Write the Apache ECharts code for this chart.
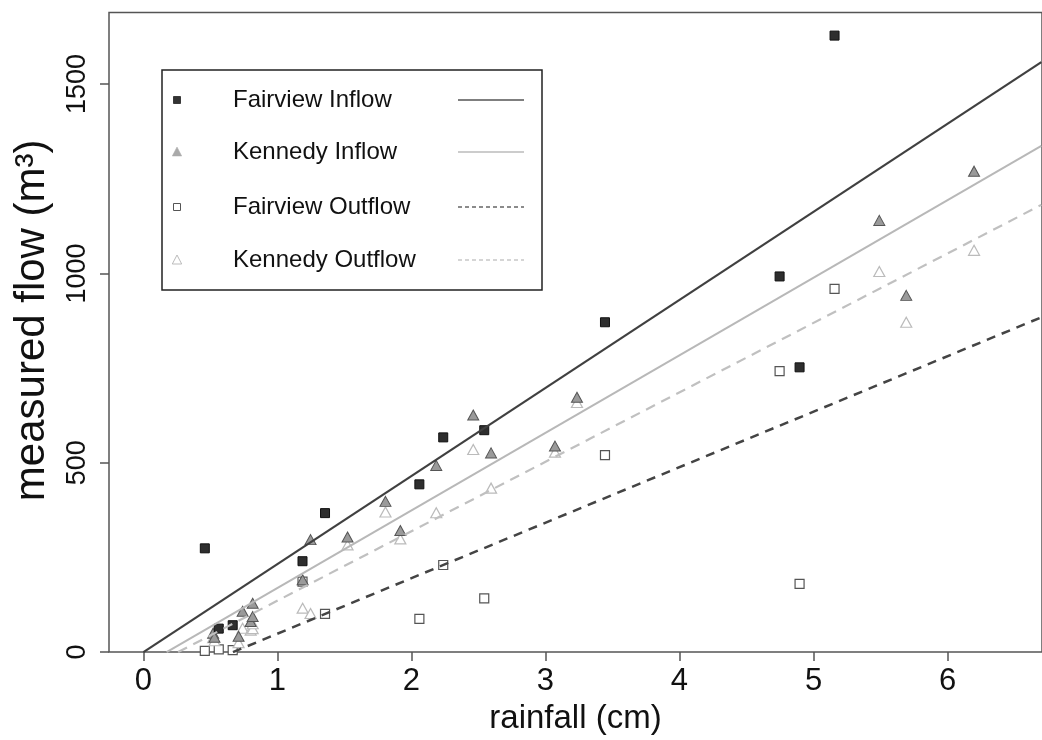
<!DOCTYPE html>
<html>
<head>
<meta charset="utf-8">
<script src="https://cdn.jsdelivr.net/npm/echarts@6/dist/echarts.min.js"></script>
<style>
html,body{margin:0;padding:0;background:#fff;}
#chart{width:1042px;height:740px;}
</style>
</head>
<body>
<div id="chart"></div>
<script>
// ---- data ----
const seriesNames = ['Fairview Inflow', 'Kennedy Inflow', 'Fairview Outflow', 'Kennedy Outflow'];
const xTicks = [0, 1, 2, 3, 4, 5, 6];
const yTicks = [0, 500, 1000, 1500];

// Fairview storms (rainfall, cm)
const fairviewX = [0.458, 0.562, 0.666, 1.187, 1.355, 2.059, 2.237, 2.543, 3.444, 4.747, 4.896, 5.157];
const fairviewInflow = [274, 62, 71, 240, 367, 443, 567, 586, 871, 992, 752, 1628];
const fairviewOutflow = [3, 7, 5, 186, 101, 88, 230, 142, 520, 742, 180, 959];

// Kennedy storms (rainfall, cm)
const kennedyX = [0.52, 0.53, 0.71, 0.74, 0.80, 0.815, 0.815, 1.188, 1.247, 1.523, 1.806, 1.917, 2.185, 2.461, 2.594, 3.071, 3.235, 5.491, 5.692, 6.198];
const kennedyInflow = [50, 39, 42, 108, 81, 94, 129, 191, 297, 304, 398, 321, 493, 626, 526, 544, 673, 1140, 942, 1270];
const kennedyOutflow = [38, 30, 25, 63, 58, 62, 75, 116, 102, 283, 370, 299, 368, 535, 433, 528, 659, 1005, 871, 1061];

// fitted lines (endpoints)
const fitFairviewInflow = [[0, 0], [6.70, 1558]];
const fitKennedyInflow = [[0.173, 0], [6.70, 1337]];
const fitFairviewOutflow = [[0.668, 0], [6.70, 884]];
const fitKennedyOutflow = [[0.259, 0], [6.70, 1181]];

// ---- chart ----
const FONT = 'Liberation Sans, Arial, sans-serif';
function pairs(xs, ys) { return xs.map((x, i) => [x, ys[i]]); }
const plain = (v) => String(v);

const chart = echarts.init(document.getElementById('chart'), null, {renderer: 'canvas'});

const legendRows = [100, 152, 207, 260];
const legendGraphics = [
  {type: 'rect', shape: {x: 162, y: 70, width: 380, height: 220},
   style: {fill: '#fff', stroke: '#222', lineWidth: 1.5}, z: 100}
];
const mk = [
  (y) => ({type: 'rect', shape: {x: 173.5, y: y - 3.5, width: 7, height: 7}, style: {fill: '#333', stroke: '#222', lineWidth: 0.8}, z: 101}),
  (y) => ({type: 'polygon', shape: {points: [[177, y - 5], [172.3, y + 4], [181.7, y + 4]]}, style: {fill: '#aaa', stroke: '#aaa', lineWidth: 0.5}, z: 101}),
  (y) => ({type: 'rect', shape: {x: 173.5, y: y - 3.5, width: 7, height: 7}, style: {fill: '#fff', stroke: '#555', lineWidth: 1}, z: 101}),
  (y) => ({type: 'polygon', shape: {points: [[177, y - 5], [172.3, y + 4], [181.7, y + 4]]}, style: {fill: '#fff', stroke: '#bbb', lineWidth: 1}, z: 101})
];
const legLine = [
  {stroke: '#555', lineDash: null},
  {stroke: '#bbb', lineDash: null},
  {stroke: '#666', lineDash: [4, 3]},
  {stroke: '#c8c8c8', lineDash: [4, 3]}
];
seriesNames.forEach((n, i) => {
  const y = legendRows[i];
  legendGraphics.push(mk[i](y));
  legendGraphics.push({type: 'text', x: 233, y: y, z: 101,
    style: {text: n, fontSize: 24, fontFamily: FONT, fill: '#111', verticalAlign: 'middle', align: 'left'}});
  legendGraphics.push({type: 'line', z: 101, shape: {x1: 458, y1: y, x2: 524, y2: y},
    style: {stroke: legLine[i].stroke, lineWidth: 1.5, lineDash: legLine[i].lineDash}});
});

const option = {
  animation: false,
  backgroundColor: '#fff',
  grid: {left: 109, right: -2, top: 12.5, bottom: 84, show: true,
         borderColor: '#555', borderWidth: 1.5, backgroundColor: 'transparent'},
  xAxis: {
    type: 'value', min: -0.257, max: 6.705,
    axisLine: {show: false, onZero: false},
    axisTick: {show: true, customValues: xTicks, length: 9, lineStyle: {color: '#555', width: 1.5}},
    axisLabel: {customValues: xTicks, formatter: plain, fontSize: 31, fontFamily: FONT, color: '#111', margin: 14},
    splitLine: {show: false},
    name: 'rainfall (cm)', nameLocation: 'middle', nameGap: 44,
    nameTextStyle: {fontSize: 33, fontFamily: FONT, color: '#111'}
  },
  yAxis: {
    type: 'value', min: 0, max: 1689,
    axisLine: {show: false, onZero: false},
    axisTick: {show: true, customValues: yTicks, length: 9, lineStyle: {color: '#555', width: 1.5}},
    axisLabel: {customValues: yTicks, formatter: plain, fontSize: 27, fontFamily: FONT, color: '#111', margin: 18, rotate: 90},
    splitLine: {show: false},
    name: 'measured flow (m³)', nameLocation: 'middle', nameGap: 56, nameRotate: 90,
    nameTextStyle: {fontSize: 42, fontFamily: FONT, color: '#111', padding: [0, 0, 0, 24]}
  },
  graphic: legendGraphics,
  series: [
    {name: seriesNames[0], type: 'scatter', data: pairs(fairviewX, fairviewInflow), symbol: 'rect', symbolSize: 9,
     itemStyle: {color: '#2e2e2e', borderColor: '#111', borderWidth: 1, opacity: 1}, z: 5},
    {name: seriesNames[1], type: 'scatter', data: pairs(kennedyX, kennedyInflow), symbol: 'triangle', symbolSize: [11, 10],
     itemStyle: {color: '#9a9a9a', borderColor: '#555', borderWidth: 1, opacity: 1}, z: 4},
    {name: seriesNames[2], type: 'scatter', data: pairs(fairviewX, fairviewOutflow), symbol: 'rect', symbolSize: 9,
     itemStyle: {color: '#fff', borderColor: '#555', borderWidth: 1.2, opacity: 1}, z: 3},
    {name: seriesNames[3], type: 'scatter', data: pairs(kennedyX, kennedyOutflow), symbol: 'triangle', symbolSize: [11, 10],
     itemStyle: {color: '#fff', borderColor: '#bbb', borderWidth: 1.2, opacity: 1}, z: 3},
    {type: 'line', data: fitFairviewInflow, symbol: 'none', silent: true, z: 6,
     lineStyle: {color: '#404040', width: 2.2}},
    {type: 'line', data: fitKennedyInflow, symbol: 'none', silent: true, z: 6,
     lineStyle: {color: '#b8b8b8', width: 2}},
    {type: 'line', data: fitKennedyOutflow, symbol: 'none', silent: true, z: 6,
     lineStyle: {color: '#c0c0c0', width: 2.2, type: [10, 7]}},
    {type: 'line', data: fitFairviewOutflow, symbol: 'none', silent: true, z: 6,
     lineStyle: {color: '#444', width: 2.5, type: [9, 7]}}
  ]
};
chart.setOption(option);
</script>
</body>
</html>
